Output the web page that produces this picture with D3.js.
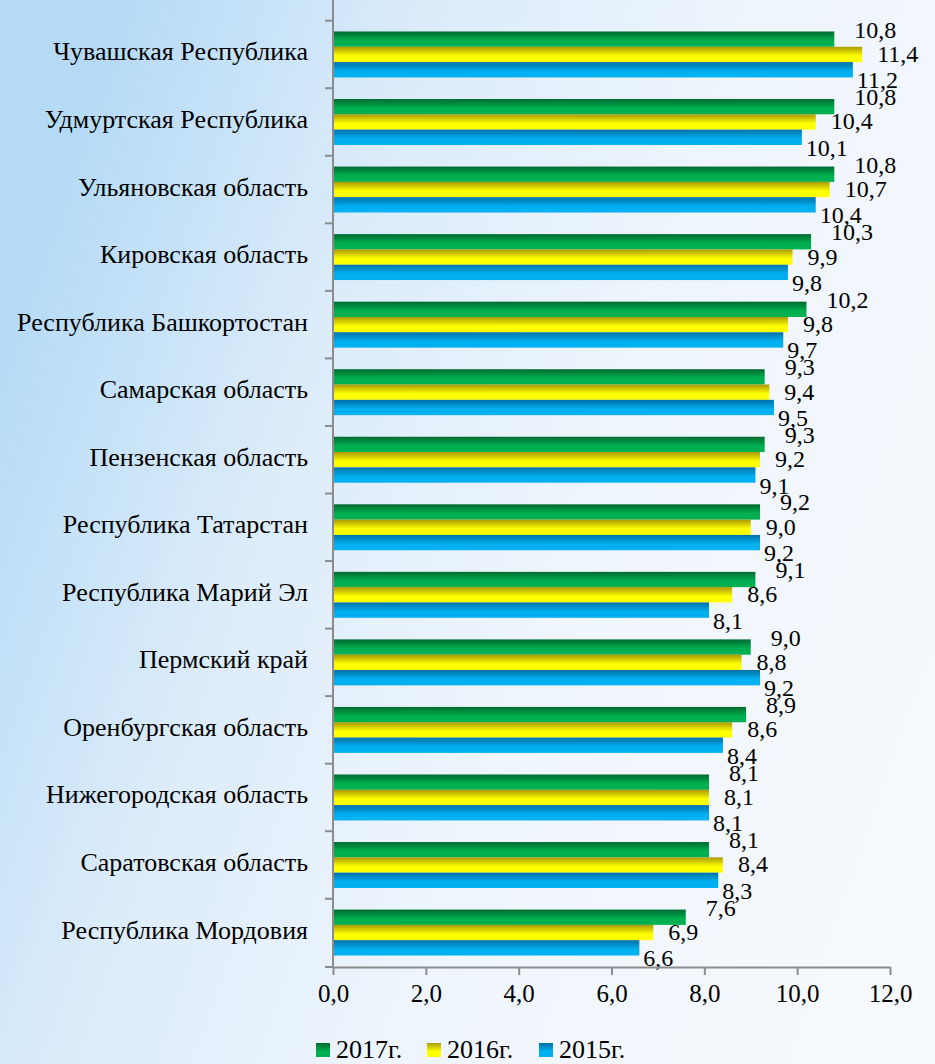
<!DOCTYPE html>
<meta charset="utf-8">
<style>
html, body { margin: 0; padding: 0; }
svg { display: block; }
</style>
<svg width="935" height="1064"></svg>
<script src="https://d3js.org/d3.v7.min.js"></script>
<script>
var categories = [
  "Чувашская Республика", "Удмуртская Республика", "Ульяновская область",
  "Кировская область", "Республика Башкортостан", "Самарская область",
  "Пензенская область", "Республика Татарстан", "Республика Марий Эл",
  "Пермский край", "Оренбургская область", "Нижегородская область",
  "Саратовская область", "Республика Мордовия"
]
var seriesNames = ["2017г.", "2016г.", "2015г."]
var values2017 = [10.8, 10.8, 10.8, 10.3, 10.2, 9.3, 9.3, 9.2, 9.1, 9.0, 8.9, 8.1, 8.1, 7.6]
var values2016 = [11.4, 10.4, 10.7, 9.9, 9.8, 9.4, 9.2, 9.0, 8.6, 8.8, 8.6, 8.1, 8.4, 6.9]
var values2015 = [11.2, 10.1, 10.4, 9.8, 9.7, 9.5, 9.1, 9.2, 8.1, 9.2, 8.4, 8.1, 8.3, 6.6]
var tickValues = [0, 2, 4, 6, 8, 10, 12]

var allValues = [values2017, values2016, values2015]
var seriesColors = [
  { dark: "#006a30", light: "#00b050" },
  { dark: "#a89a00", light: "#ffff00" },
  { dark: "#0070a8", light: "#00b0f0" }
]

var width = 935, height = 1064
var margin = { left: 333, right: 45, top: 20, bottom: 97 }
var serif = "'Liberation Serif', 'Times New Roman', serif"

var svg = d3.select("svg")
var defs = svg.append("defs")

// background
var bg = defs.append("linearGradient").attr("id", "bg")
  .attr("x1", "0").attr("y1", "0.3").attr("x2", "1").attr("y2", "0.7")
bg.append("stop").attr("offset", "0").attr("stop-color", "#b4daf6")
bg.append("stop").attr("offset", "0.3").attr("stop-color", "#dcecfa")
bg.append("stop").attr("offset", "0.6").attr("stop-color", "#eef5fc")
bg.append("stop").attr("offset", "1").attr("stop-color", "#f6f9fd")
svg.append("rect").attr("width", width).attr("height", height).attr("fill", "url(#bg)")

// bar gradients
seriesColors.forEach(function (c, i) {
  var g = defs.append("linearGradient").attr("id", "bar" + i)
    .attr("x1", "0").attr("y1", "0").attr("x2", "0").attr("y2", "1")
  g.append("stop").attr("offset", "0").attr("stop-color", c.dark)
  g.append("stop").attr("offset", "0.6").attr("stop-color", c.light)
  g.append("stop").attr("offset", "1").attr("stop-color", c.light)
})

var x = d3.scaleLinear().domain([0, 12]).range([margin.left, width - margin.right])
var y = d3.scaleBand().domain(categories)
  .range([margin.top, height - margin.bottom])
  .paddingInner(0.32).paddingOuter(0.17)
var ySub = d3.scaleBand().domain(d3.range(3)).range([0, y.bandwidth()])

var fmt = function (v) { return d3.format(".1f")(v).replace(".", ",") }

// bars
var groups = svg.append("g").selectAll("g")
  .data(categories)
  .join("g")
  .attr("transform", function (d) { return "translate(0," + y(d) + ")" })

groups.selectAll("rect")
  .data(function (d, i) { return allValues.map(function (s, k) { return { k: k, v: s[i] } }) })
  .join("rect")
  .attr("x", x(0))
  .attr("y", function (d) { return ySub(d.k) })
  .attr("width", function (d) { return x(d.v) - x(0) })
  .attr("height", ySub.bandwidth())
  .attr("fill", function (d) { return "url(#bar" + d.k + ")" })

// data labels
var labelDx = [20, 15, 4]
var labelDy = [-7, 2, 13]
groups.selectAll("text")
  .data(function (d, i) { return allValues.map(function (s, k) { return { k: k, v: s[i] } }) })
  .join("text")
  .attr("x", function (d) { return x(d.v) + labelDx[d.k] })
  .attr("y", function (d) { return ySub(d.k) + ySub.bandwidth() / 2 + labelDy[d.k] })
  .attr("dominant-baseline", "middle")
  .attr("font-size", 24)
  .attr("font-family", serif)
  .attr("fill", "#000")
  .text(function (d) { return fmt(d.v) })

// left axis
var bandEdges = categories.map(function (c) { return y(c) - y.step() * y.paddingInner() / 2 })
bandEdges.push(height - margin.bottom)
var axisColor = "#8c8c8c"
var left = svg.append("g")
left.append("line")
  .attr("x1", x(0)).attr("x2", x(0))
  .attr("y1", margin.top - 20).attr("y2", height - margin.bottom)
  .attr("stroke", axisColor).attr("stroke-width", 2)
left.selectAll(".tk").data(bandEdges).join("line")
  .attr("x1", x(0) - 8).attr("x2", x(0))
  .attr("y1", function (d) { return d }).attr("y2", function (d) { return d })
  .attr("stroke", axisColor).attr("stroke-width", 2)
left.selectAll("text").data(categories).join("text")
  .attr("x", x(0) - 25)
  .attr("y", function (d) { return y(d) + y.bandwidth() / 2 })
  .attr("text-anchor", "end")
  .attr("dominant-baseline", "middle")
  .attr("font-size", 26)
  .attr("font-family", serif)
  .text(function (d) { return d })

// bottom axis
var bottom = svg.append("g")
  .attr("transform", "translate(0," + (height - margin.bottom) + ")")
  .call(d3.axisBottom(x).tickValues(tickValues).tickFormat(fmt).tickSize(8).tickSizeOuter(0))
  .attr("font-family", serif)
bottom.select(".domain").attr("stroke", axisColor).attr("stroke-width", 2)
bottom.selectAll(".tick line").attr("stroke", axisColor).attr("stroke-width", 2)
bottom.selectAll(".tick text")
  .attr("font-size", 25).attr("font-family", serif)
  .attr("fill", "#000").attr("dy", "0.95em")

// legend
var legendX = [316, 427, 539]
var legend = svg.append("g").selectAll("g")
  .data(seriesNames)
  .join("g")
  .attr("transform", function (d, i) { return "translate(" + legendX[i] + ",1043)" })
legend.append("rect")
  .attr("width", 14).attr("height", 14)
  .attr("fill", function (d, i) { return "url(#bar" + i + ")" })
legend.append("text")
  .attr("x", 20).attr("y", 15)
  .attr("font-size", 26)
  .attr("font-family", serif)
  .text(function (d) { return d })
</script>
